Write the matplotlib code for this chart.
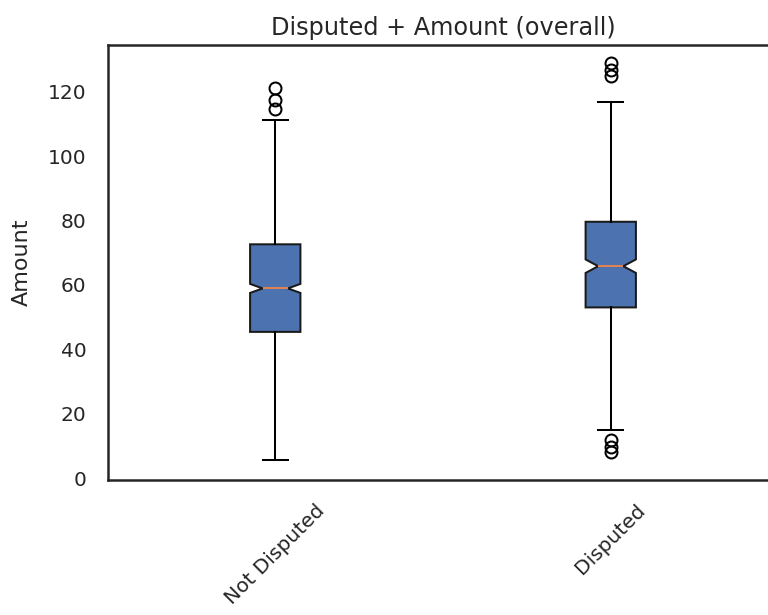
import matplotlib
matplotlib.use("Agg")
import matplotlib.pyplot as plt

# ---- data ----
categories = ["Not Disputed", "Disputed"]
medians = [58.9, 65.8]
q1_vals = [45.4, 53.0]
q3_vals = [72.6, 79.6]
whisker_low = [5.6, 14.9]
whisker_high = [111.2, 116.9]
notch_low = [57.5, 63.7]
notch_high = [60.3, 67.9]
fliers = [
    [114.6, 117.5, 121.0],
    [8.0, 9.5, 11.8, 125.0, 126.7, 128.8],
]
y_ticks = [0, 20, 40, 60, 80, 100, 120]

title = "Disputed + Amount (overall)"
ylabel = "Amount"

TEXT = "#262626"
BOX_BLUE = "#4C72B0"
MED_ORANGE = "#DD8452"

plt.rcParams["font.family"] = ["DejaVu Sans"]

fig = plt.figure(figsize=(7.68, 6.15), dpi=100)
fig.patch.set_facecolor("white")
ax = fig.add_axes([107.5 / 768, (615 - 480) / 615, 671 / 768, 435 / 615])
ax.set_facecolor("white")

stats = []
for i, cat in enumerate(categories):
    stats.append(dict(
        label=cat,
        med=medians[i],
        q1=q1_vals[i],
        q3=q3_vals[i],
        whislo=whisker_low[i],
        whishi=whisker_high[i],
        cilo=notch_low[i],
        cihi=notch_high[i],
        fliers=fliers[i],
    ))

lw = 1.45
ax.bxp(
    stats,
    shownotches=True,
    patch_artist=True,
    boxprops=dict(facecolor=BOX_BLUE, edgecolor="#1a1a1a", linewidth=lw),
    whiskerprops=dict(color="black", linewidth=lw),
    capprops=dict(color="black", linewidth=lw),
    medianprops=dict(color=MED_ORANGE, linewidth=lw),
    flierprops=dict(marker="o", markerfacecolor="none", markeredgecolor="black",
                    markersize=8.6, markeredgewidth=lw),
)

ax.set_xlim(0.5, 2.5)
ax.set_ylim(-0.6, 134.5)

for side in ["top", "bottom", "left", "right"]:
    ax.spines[side].set_color(TEXT)
    ax.spines[side].set_linewidth(1.8)

ax.set_yticks(y_ticks)
ax.tick_params(axis="both", length=0, pad=15, labelsize=14.5, labelcolor=TEXT)
plt.setp(ax.get_xticklabels(), rotation=45, ha="center")

ax.set_ylabel(ylabel, fontsize=16, color=TEXT, labelpad=11.5)
ax.set_title(title, fontsize=17.3, color=TEXT, pad=7)

fig.savefig("out.png", dpi=100, facecolor="white")
